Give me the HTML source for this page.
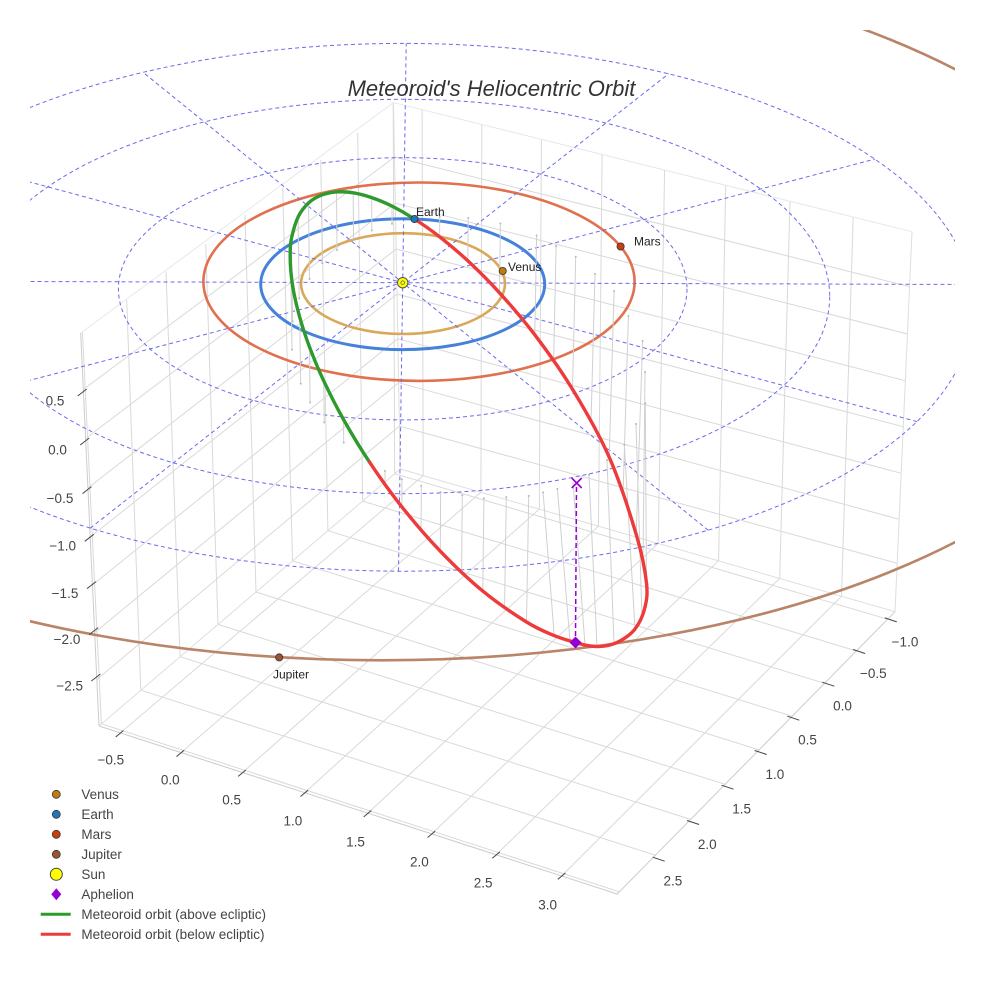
<!DOCTYPE html>
<html><head><meta charset="utf-8">
<style>
html,body{margin:0;padding:0;background:#fff;}
svg{display:block;font-family:"Liberation Sans",Arial,sans-serif;}
</style></head>
<body>
<svg width="984" height="984" viewBox="0 0 984 984" xmlns="http://www.w3.org/2000/svg">
<defs><clipPath id="clp"><rect x="30" y="30" width="925" height="925"/></clipPath></defs>
<rect width="984" height="984" fill="#fff"/>
<g clip-path="url(#clp)">
  <!-- box grid -->
  <path fill="none" stroke="#d9d9d9" stroke-width="1" d="
M423.2 475.6L119.5 733.6 M480.9 492.3L180.3 753.2 M539.3 509.1L242.0 773.0 M598.4 526.2L304.3 793.1
M658.2 543.4L367.5 813.5 M718.6 560.8L431.4 834.1 M779.7 578.4L496.1 854.9 M841.5 596.3L561.6 876.0
M394.7 473.7L887.6 619.2 M362.6 501.1L856.4 651 M327.9 530.7L824.5 683.3 M292.5 560.9L792.1 716.2
M256 592L759 749.9 M218 624.4L725.1 784.3 M180.1 656.7L690.6 819.4 M140.8 690.2L655.4 855.2
M101.4 723.8L619.4 891.8
M394.7 473.7L393.2 104 M362.6 501.1L357.7 132.7 M327.9 530.7L320.7 160 M292.5 560.9L282.7 187.3
M256 592L245 215 M218 624.4L205.7 244 M180.1 656.7L166 271.7 M140.8 690.2L126.7 300
M101.4 723.8L82.5 332.5
M399.4 426.1L96.8 679.5 M398.6 382.7L94.7 632.5 M397.8 338.7L92.4 585 M397.0 294.1L90.2 537
M396.2 249.0L87.9 488 M395.3 203.2L85.6 438.5 M394.5 157.0L83.3 389.5
M423.2 475.6L422.1 109.5 M480.9 492.3L481.8 124 M539.3 509.1L541.4 139.2 M598.4 526.2L602.1 154.5
M658.2 543.4L664.6 170 M718.6 560.8L725.7 185.5 M779.7 578.4L790 201.5 M841.5 596.3L853.2 217
M399.4 426.1L897.2 563.3 M398.6 382.7L899.1 519.3 M397.8 338.7L901.2 473.3 M397.0 294.1L903.3 426.7
M396.2 249.0L905.3 380.7 M395.3 203.2L907.4 334 M394.5 157.0L909.5 286.7"/>
  <!-- box edges -->
  <path fill="none" stroke="#dedede" stroke-width="1" d="M400.2 469L99 726 M400.2 469L895 611.7 M400.2 469L393.5 102.5 M895 611.7L912 231.7"/>
  <path fill="none" stroke="#e8e8e8" stroke-width="1" d="M80.7 333L393.5 102.5L912 231.7"/>
  <path fill="none" stroke="#cccccc" stroke-width="1" d="M99 726L617.2 894L895 611.7 M99 726L80.7 333"/>

  <!-- planet orbits -->
  <g fill="none">
    <ellipse cx="381.4" cy="305.7" rx="769.8" ry="354.6" stroke="#b98468" stroke-width="2.6"/>
    <ellipse cx="419" cy="281.7" rx="215.6" ry="99.2" stroke="#e0704e" stroke-width="2.6"/>
    <ellipse cx="402.7" cy="284.2" rx="142" ry="65.4" stroke="#3c87d6" stroke-width="3"/>
    <ellipse cx="403" cy="283.6" rx="102" ry="50.4" stroke="#d9a85a" stroke-width="2.6"/>
  </g>

  <!-- dashed ecliptic grid -->
  <g fill="none" stroke="#6b6bec" stroke-width="1" stroke-dasharray="4 3">
    <ellipse cx="402.7" cy="284.2" rx="142" ry="65.4"/>
    <ellipse cx="402.7" cy="288.8" rx="284.3" ry="131.1"/>
    <ellipse cx="402.7" cy="296.5" rx="427" ry="197.2"/>
    <ellipse cx="402.7" cy="307.3" rx="570.5" ry="263.9"/>
    <path d="M917.1 421.6L-65.4 156.3 M708.3 530.3L142.9 72.2 M398.5 571.3L406.2 43.3 M90.2 528.2L668.7 73.7 M-115.2 418.3L874.9 159.1 M-165.5 280.9L971.3 284.5"/>
  </g>

  <!-- stems -->
  <path fill="none" stroke="#d0d0d0" stroke-width="1" d="
M439.6 236.8L439.7 216.9 M467.8 260.8L468.2 218.0 M499.5 292.8L500.4 223.5 M534.8 334.8L536.6 235.5
M553.6 362L556.1 246.1 M572.5 389.3L575.7 256.8 M591 423L595 273.9 M609.2 457.2L614.1 291
M623 496L628.4 316 M636.2 534.4L642.6 340.9 M643 562L645 372 M646.5 590L645.3 403.3
M642 618L636 424 M635 629L624.3 444.7 M614 643L607 460 M597 646.5L589 474.7 M585 645.5L573 481.8
M570 641L557.4 488.9 M554.2 635.6L543.1 492.4 M526.5 622L528.7 495.9 M504.6 606.5L506.3 497.1
M482.8 591.1L483.9 498.3 M461.6 571.1L462.3 495.2 M440.3 551.2L440.6 492.1 M421.1 529L421.3 485.7
M401.9 506.9L401.9 479.3 M385 484L385 471
M343.5 419.5L343.7 442.6 M323.7 380.8L324.2 422.4 M309.4 346.7L310.1 402.5 M299.7 317.2L300.7 383.6
M290.8 271L292 349.7 M291.4 238.7L292.7 321.5 M298.1 217L299.2 298.2 M308.5 203L309.5 279
M321.5 195.1L322.3 263.2 M336.5 191.9L337 250 M353.2 192.8L353.5 239.2 M371.7 197.6L371.8 230.4
M392 206.1L392 223.7"/>
  <g fill="#b8b8b8">
    <circle cx="439.7" cy="216.9" r="1"/><circle cx="468.2" cy="218" r="1"/><circle cx="500.4" cy="223.5" r="1"/>
    <circle cx="536.6" cy="235.5" r="1"/><circle cx="556.1" cy="246.1" r="1"/><circle cx="575.7" cy="256.8" r="1"/>
    <circle cx="595" cy="273.9" r="1"/><circle cx="614.1" cy="291" r="1"/><circle cx="628.4" cy="316" r="1"/>
    <circle cx="642.6" cy="340.9" r="1"/><circle cx="645" cy="372" r="1"/><circle cx="645.3" cy="403.3" r="1"/>
    <circle cx="636" cy="424" r="1"/><circle cx="624.3" cy="444.7" r="1"/><circle cx="607" cy="460" r="1"/>
    <circle cx="589" cy="474.7" r="1"/><circle cx="557.4" cy="488.9" r="1"/>
    <circle cx="543.1" cy="492.4" r="1"/><circle cx="528.7" cy="495.9" r="1"/><circle cx="506.3" cy="497.1" r="1"/>
    <circle cx="483.9" cy="498.3" r="1"/><circle cx="462.3" cy="495.2" r="1"/><circle cx="440.6" cy="492.1" r="1"/>
    <circle cx="421.3" cy="485.7" r="1"/><circle cx="401.9" cy="479.3" r="1"/><circle cx="385" cy="471" r="1"/>
    <circle cx="343.7" cy="442.6" r="1"/><circle cx="324.2" cy="422.4" r="1"/><circle cx="310.1" cy="402.5" r="1"/>
    <circle cx="300.7" cy="383.6" r="1"/><circle cx="292" cy="349.7" r="1"/><circle cx="292.7" cy="321.5" r="1"/>
    <circle cx="299.2" cy="298.2" r="1"/><circle cx="309.5" cy="279" r="1"/><circle cx="322.3" cy="263.2" r="1"/>
    <circle cx="337" cy="250" r="1"/><circle cx="353.5" cy="239.2" r="1"/><circle cx="371.8" cy="230.4" r="1"/>
    <circle cx="392" cy="223.7" r="1"/>
  </g>

  <!-- meteoroid orbit -->
  <g fill="none" stroke-width="3.4" stroke-linecap="round" stroke-linejoin="round">
    <path stroke="#2e9a2e" d="M369.5 462.1
C359.77 447.53 351.13 433.05 343.5 419.5
C335.87 405.95 329.38 392.93 323.7 380.8
C318.02 368.67 313.4 357.3 309.4 346.7
C305.4 336.1 302.32 326.3 299.7 317.2
C297.08 308.1 295.18 299.8 293.7 292.1
C292.22 284.4 291.38 277.47 290.8 271.0
C290.22 264.53 290.1 258.68 290.2 253.3
C290.3 247.92 290.08 244.75 291.4 238.7
C292.72 232.65 295.25 222.95 298.1 217.0
C300.95 211.05 304.6 206.65 308.5 203.0
C312.4 199.35 316.83 196.95 321.5 195.1
C326.17 193.25 331.22 192.28 336.5 191.9
C341.78 191.52 347.33 191.85 353.2 192.8
C359.07 193.75 365.23 195.38 371.7 197.6
C378.17 199.82 384.87 202.53 392.0 206.1
C399.13 209.67 406.57 213.88 414.5 219.0"/>
    <path stroke="#ee3a3a" d="M414.5 219.0
C422.43 224.12 430.72 229.83 439.6 236.8
C448.48 243.77 457.82 251.47 467.8 260.8
C477.78 270.13 488.33 280.47 499.5 292.8
C510.67 305.13 522.63 318.72 534.8 334.8
C546.97 350.88 560.1 368.9 572.5 389.3
C584.9 409.7 598.58 433.02 609.2 457.2
C619.82 481.38 629.98 513.43 636.2 534.4
C642.42 555.37 645.12 570.57 646.5 583
C647.88 595.43 646.42 601.33 644.5 609
C642.58 616.67 639.08 623.67 635 629
C630.92 634.33 625 638.17 620 641
C615 643.83 610 645.17 605 646
C600 646.83 594.92 646.58 590 646
C585.08 645.42 581.47 644.23 575.5 642.5
C569.53 640.77 562.37 639.02 554.2 635.6
C546.03 632.18 538.4 629.42 526.5 622
C514.6 614.58 497.17 602.9 482.8 591.1
C468.43 579.3 453.78 565.23 440.3 551.2
C426.82 537.17 413.7 521.75 401.9 506.9
C390.1 492.05 379.23 476.67 369.5 462.1"/>
  </g>
</g>

<!-- aphelion projection -->
<line x1="576.5" y1="487" x2="575.5" y2="637" stroke="#9400d3" stroke-width="1.5" stroke-dasharray="5 3"/>
<path d="M571.7 478L581.7 488M581.7 478L571.7 488" stroke="#9400d3" stroke-width="1.6"/>
<path d="M575.5 636.5L581.5 642.5L575.5 648.5L569.5 642.5Z" fill="#9400d3"/>

<!-- planets -->
<circle cx="502.7" cy="271" r="3.6" fill="#c27c0e" stroke="#333" stroke-width="0.8"/>
<circle cx="414.5" cy="219" r="3.6" fill="#1f77b4" stroke="#333" stroke-width="0.8"/>
<circle cx="620.6" cy="246.5" r="3.6" fill="#c9400f" stroke="#333" stroke-width="0.8"/>
<circle cx="279.2" cy="657.4" r="3.6" fill="#9a5530" stroke="#333" stroke-width="0.8"/>

<!-- Sun -->
<circle cx="402.7" cy="282.7" r="5.2" fill="#ffff00" stroke="#555" stroke-width="1"/>
<circle cx="402.7" cy="282.7" r="1.8" fill="none" stroke="#666" stroke-width="0.8"/>

<!-- planet labels -->
<g font-size="12" fill="#222">
  <text x="416" y="216">Earth</text>
  <text x="508" y="271">Venus</text>
  <text x="634" y="245.5">Mars</text>
  <text x="291" y="678.5" text-anchor="middle">Jupiter</text>
</g>

<!-- title -->
<text x="491.5" y="96" font-size="22" font-style="italic" fill="#333" text-anchor="middle">Meteoroid's Heliocentric Orbit</text>

<!-- tick marks -->
<g stroke="#444" stroke-width="1">
  <path d="M77.7 396L86.7 389"/>
  <path d="M80.2 445L89.2 438"/>
  <path d="M82.5 493.6L91.5 486.6"/>
  <path d="M84.8 541.3L93.8 534.3"/>
  <path d="M87 588.6L96 581.6"/>
  <path d="M89.2 634.6L98.2 627.6"/>
  <path d="M91.4 681L100.4 674"/>
  <path d="M115.7 737L123.3 730.6"/>
  <path d="M176.5 756.6L184.1 750.2"/>
  <path d="M238.2 776.4L245.8 770"/>
  <path d="M300.5 796.5L308.1 790.1"/>
  <path d="M363.7 816.9L371.3 810.5"/>
  <path d="M427.6 837.5L435.2 831.1"/>
  <path d="M492.3 858.3L499.9 851.9"/>
  <path d="M557.8 879.4L565.4 873"/>
  <path d="M884.8 617.9L896.8 621.9"/>
  <path d="M853.1 649.5L865.1 653.5"/>
  <path d="M822.3 682.2L834.3 686.2"/>
  <path d="M787.3 716.2L799.3 720.2"/>
  <path d="M754.7 750.5L766.7 754.5"/>
  <path d="M721.5 785.2L733.5 789.2"/>
  <path d="M687.1 820.5L699.1 824.5"/>
  <path d="M652.7 857.2L664.7 861.2"/>
</g>

<!-- tick labels -->
<g font-size="13.5" fill="#444" text-anchor="middle">
  <text x="55" y="405.4">0.5</text>
  <text x="57.5" y="454.4">0.0</text>
  <text x="60" y="503">−0.5</text>
  <text x="62.7" y="550.7">−1.0</text>
  <text x="65" y="598">−1.5</text>
  <text x="67" y="644">−2.0</text>
  <text x="69.7" y="690.4">−2.5</text>

  <text x="110.8" y="764.7">−0.5</text>
  <text x="170.3" y="784.7">0.0</text>
  <text x="231.6" y="804.7">0.5</text>
  <text x="292.9" y="825.7">1.0</text>
  <text x="355.5" y="846.7">1.5</text>
  <text x="419.4" y="866.7">2.0</text>
  <text x="483.2" y="887.7">2.5</text>
  <text x="547.7" y="909.7">3.0</text>

  <text x="905" y="646.4">−1.0</text>
  <text x="873.3" y="678">−0.5</text>
  <text x="842.5" y="710.7">0.0</text>
  <text x="807.5" y="744.7">0.5</text>
  <text x="774.9" y="779">1.0</text>
  <text x="741.7" y="813.7">1.5</text>
  <text x="707.3" y="849">2.0</text>
  <text x="672.9" y="885.7">2.5</text>
</g>

<!-- legend -->
<g>
  <circle cx="56.3" cy="794.3" r="4" fill="#c27c0e" stroke="#333" stroke-width="0.8"/>
  <circle cx="56.3" cy="814.3" r="4" fill="#1f77b4" stroke="#333" stroke-width="0.8"/>
  <circle cx="56.3" cy="834.3" r="4" fill="#c9400f" stroke="#333" stroke-width="0.8"/>
  <circle cx="56.3" cy="854.3" r="4" fill="#9a5530" stroke="#333" stroke-width="0.8"/>
  <circle cx="56.3" cy="874.3" r="6" fill="#ffff00" stroke="#444" stroke-width="1"/>
  <path d="M56.3 888.3L61.3 894.3L56.3 900.3L51.3 894.3Z" fill="#9400d3"/>
  <line x1="40.7" y1="914.3" x2="70.7" y2="914.3" stroke="#2e9a2e" stroke-width="3"/>
  <line x1="40.7" y1="934.3" x2="70.7" y2="934.3" stroke="#ee3a3a" stroke-width="3"/>
  <g font-size="13.5" fill="#444">
    <text x="81.4" y="799">Venus</text>
    <text x="81.4" y="819">Earth</text>
    <text x="81.4" y="839">Mars</text>
    <text x="81.4" y="859">Jupiter</text>
    <text x="81.4" y="879">Sun</text>
    <text x="81.4" y="899">Aphelion</text>
    <text x="81.4" y="919">Meteoroid orbit (above ecliptic)</text>
    <text x="81.4" y="939">Meteoroid orbit (below ecliptic)</text>
  </g>
</g>
</svg>
</body></html>
